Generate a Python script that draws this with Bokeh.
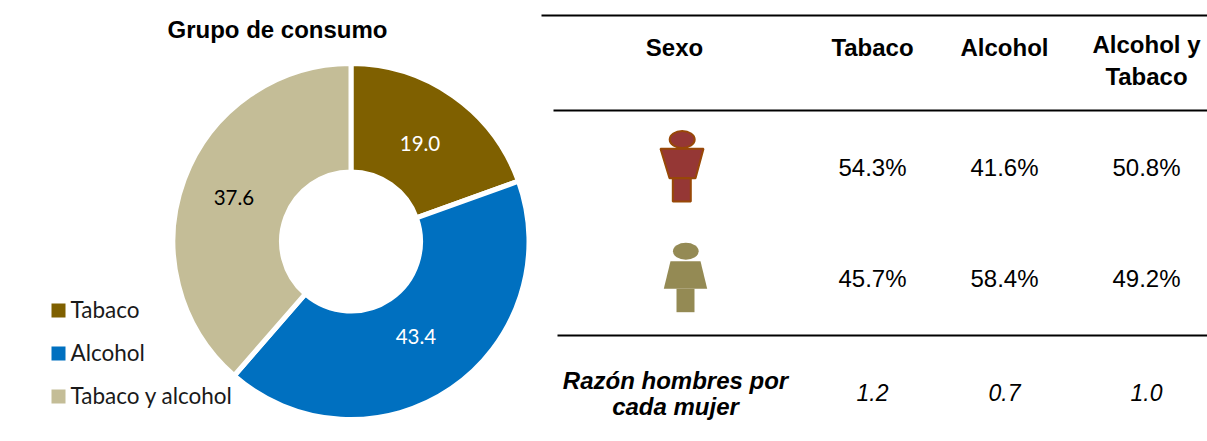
from bokeh.plotting import figure
from bokeh.models import Range1d, ColumnDataSource
from bokeh.core.properties import value
from bokeh.embed import file_html
from bokeh.resources import INLINE
import numpy as np

categories = ["Tabaco", "Alcohol", "Tabaco y alcohol"]
# Printed data labels
shares = [19.0, 43.4, 37.6]
# Slice sizes as actually drawn in the picture (measured from its angles)
arc_shares = [19.5, 41.9, 38.6]
colors = ["#7F6000", "#0070C0", "#C4BD97"]
label_colors = ["white", "white", "black"]

col_headers = [["Tabaco"], ["Alcohol"], ["Alcohol y", "Tabaco"]]
hombres = ["54.3%", "41.6%", "50.8%"]
mujeres = ["45.7%", "58.4%", "49.2%"]
razon = ["1.2", "0.7", "1.0"]

W, H = 1207, 441
p = figure(width=W, height=H, x_range=Range1d(0, W), y_range=Range1d(0, H),
           output_backend="svg", toolbar_location=None, min_border=0,
           x_axis_type=None, y_axis_type=None, outline_line_color=None)
p.grid.visible = False
p.background_fill_color = "white"


def Y(y):
    return 441 - y


ARIAL = value("Liberation Sans")
LATO = value("Lato")


def txt(x, y, s, size, color="black", font=ARIAL, style="normal", align="center"):
    p.text([x], [Y(y)], text=[s], text_font=font, text_font_size=f"{size}px",
           text_font_style=style, text_color=color, text_align=align, text_baseline="middle")


# Donut
cx, cy, r_out, r_in = 350.5, 241, 178, 69.5
fr = np.array(arc_shares) / sum(arc_shares)
cum = np.concatenate([[0], np.cumsum(fr)])
starts = np.pi / 2 - 2 * np.pi * cum[:-1]
ends = np.pi / 2 - 2 * np.pi * cum[1:]
src = ColumnDataSource(dict(start=ends, end=starts, color=colors))
p.annular_wedge(x=cx, y=Y(cy), inner_radius=r_in, outer_radius=r_out, start_angle="start", end_angle="end",
                fill_color="color", line_color="white", line_width=5, source=src)
mid = (starts + ends) / 2
for m, v, c, r_lab in zip(mid, shares, label_colors, [120, 115, 125]):
    txt(cx + r_lab * np.cos(m), cy - r_lab * np.sin(m), f"{v:.1f}", 20.5, c, LATO)

txt(277, 29, "Grupo de consumo", 24, style="bold")

# Legend
for (name, col, y) in zip(categories, colors, [310, 353, 396]):
    p.quad(left=[51], right=[65], top=[Y(y - 7)], bottom=[Y(y + 7)], fill_color=col, line_color=None)
    txt(70, y - 1, name, 22.5, "#1a1a1a", LATO, align="left")

# Table rules
for x0, y in [(541, 15), (553, 110), (557, 335)]:
    p.line([x0, 1207], [Y(y), Y(y)], line_color="black", line_width=2)

# Table text
col_x = [872, 1004, 1146]
txt(674, 47, "Sexo", 24, style="bold")
for x, lines in zip(col_x, col_headers):
    if len(lines) == 1:
        txt(x, 47, lines[0], 24, style="bold")
    else:
        txt(x, 44, lines[0], 24, style="bold")
        txt(x, 76, lines[1], 24, style="bold")
for x, a, b, c in zip(col_x, hombres, mujeres, razon):
    txt(x, 167, a, 24)
    txt(x, 278, b, 24)
    txt(x, 392, c, 23, style="italic")
txt(675, 380, "Razón hombres por", 24, style="bold italic")
txt(675, 406, "cada mujer", 24, style="bold italic")

# Pictograms
p.ellipse([681.7], [Y(139)], width=25, height=17, fill_color="#953735", line_color="#984807", line_width=2)
p.patch([660, 703, 695, 669], [Y(148.3), Y(148.3), Y(177.7), Y(177.7)], fill_color="#953735", line_color="#984807", line_width=2)
p.patch([672.3, 690.3, 690.3, 672.3], [Y(177.7), Y(177.7), Y(201), Y(201)], fill_color="#953735", line_color="#984807", line_width=2)

p.ellipse([685.3], [Y(250.7)], width=25.7, height=17, fill_color="#948A54", line_color=None)
p.patch([670, 700, 706.7, 663.3], [Y(260.7), Y(260.7), Y(288.3), Y(288.3)], fill_color="#948A54", line_color=None)
p.patch([676, 694, 694, 676], [Y(288.3), Y(288.3), Y(311.7), Y(311.7)], fill_color="#948A54", line_color=None)

open("out.html", "w").write(file_html(p, INLINE))
